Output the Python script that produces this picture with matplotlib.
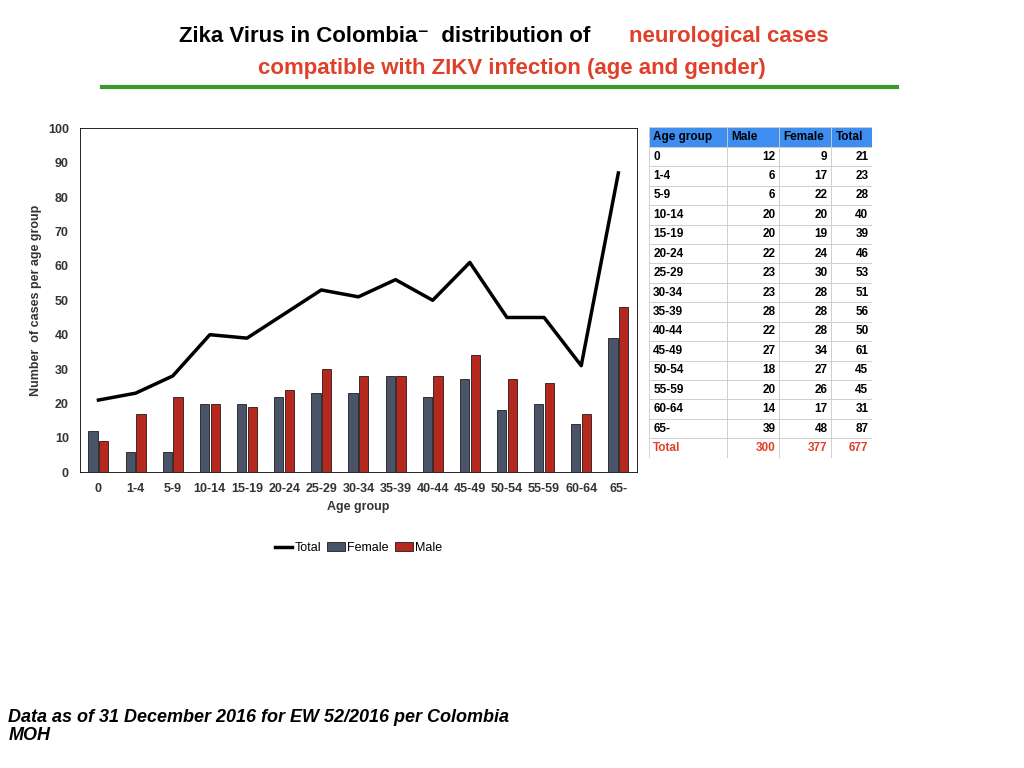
import matplotlib
matplotlib.use("Agg")
import matplotlib.pyplot as plt
import numpy as np
from matplotlib.lines import Line2D
from matplotlib.patches import Rectangle

ages = ["0","1-4","5-9","10-14","15-19","20-24","25-29","30-34","35-39","40-44","45-49","50-54","55-59","60-64","65-"]
male = [12,6,6,20,20,22,23,23,28,22,27,18,20,14,39]
female = [9,17,22,20,19,24,30,28,28,28,34,27,26,17,48]
total = [21,23,28,40,39,46,53,51,56,50,61,45,45,31,87]
totals_row = ["Total", "300", "377", "677"]

plt.rcParams['font.family'] = ['Liberation Sans', 'DejaVu Sans']
fig = plt.figure(figsize=(10.24, 7.68), dpi=100)

# Title
fig.text(0.5, 0.952, "Zika Virus in Colombia\u207b distribution of ", ha="right", va="center",
         fontsize=16, fontweight="bold", color="black", transform=fig.transFigure, alpha=0)
t1 = "Zika Virus in Colombia\u207b  distribution of "
t2 = "neurological cases"
fig.text(0.175, 0.952, t1, ha="left", va="center", fontsize=16, fontweight="bold")
fig.text(0.614, 0.952, t2, ha="left", va="center", fontsize=16, fontweight="bold", color="#e0402a")
fig.text(0.5, 0.911, "compatible with ZIKV infection (age and gender)", ha="center", va="center",
         fontsize=16, fontweight="bold", color="#e0402a")
fig.add_artist(Line2D([0.1, 0.876], [0.887, 0.887], color="#3a9a2a", lw=3, transform=fig.transFigure))

ax = fig.add_axes([0.078, 0.385, 0.544, 0.448])
x = np.arange(len(ages))
w = 0.25
ax.bar(x - w/2 - 0.02, male, w, color="#4a5468", edgecolor="black", lw=0.5, label="Female")
ax.bar(x + w/2 + 0.02, female, w, color="#b5281e", edgecolor="black", lw=0.5, label="Male")
ax.plot(x, total, color="black", lw=2.5, label="Total")
ax.set_ylim(0, 100)
ax.set_xlim(-0.5, len(ages) - 0.5)
ax.set_yticks(range(0, 101, 10))
ax.set_xticks(x)
ax.set_xticklabels(ages)
ax.tick_params(labelsize=9, length=0, pad=8)
for lab in ax.get_xticklabels() + ax.get_yticklabels():
    lab.set_fontweight("bold"); lab.set_color("#333333")
ax.set_xlabel("Age group", fontsize=9, fontweight="bold", color="#333333")
ax.set_ylabel("Number  of cases per age group", fontsize=9, fontweight="bold", color="#333333")
for s in ax.spines.values():
    s.set_linewidth(0.6)
ax.legend(loc="upper center", bbox_to_anchor=(0.5, -0.17), ncol=3, frameon=False,
          fontsize=9, handlelength=1.4, columnspacing=0.5, handletextpad=0.2)

# Table
tax = fig.add_axes([0.634, 0.404, 0.218, 0.430])
tax.set_xlim(0, 223); tax.set_ylim(330, 0); tax.axis("off")
colx = [0, 78, 130, 182, 223]
rows = [["Age group", "Male", "Female", "Total"]] + \
       [[a, str(m), str(f), str(t)] for a, m, f, t in zip(ages, male, female, total)] + [totals_row]
rh = 330 / len(rows)
for i, r in enumerate(rows):
    y0 = i * rh
    for j in range(4):
        fc = "#3d8ef0" if i == 0 else "white"
        tax.add_patch(Rectangle((colx[j], y0), colx[j+1]-colx[j], rh, facecolor=fc,
                                edgecolor="#cccccc", lw=0.6))
        col = "#e0402a" if i == len(rows) - 1 else "black"
        if j == 0 or i == 0:
            tax.text(colx[j] + 4, y0 + rh/2, r[j], ha="left", va="center", fontsize=8.5,
                     fontweight="bold", color=col)
        else:
            tax.text(colx[j+1] - 4, y0 + rh/2, r[j], ha="right", va="center", fontsize=8.5,
                     fontweight="bold", color=col)

fig.text(0.008, 0.054, "Data as of 31 December 2016 for EW 52/2016 per Colombia\nMOH",
         ha="left", va="center", fontsize=13, fontweight="bold", style="italic", linespacing=1.1)

fig.savefig("out.png", dpi=100)
